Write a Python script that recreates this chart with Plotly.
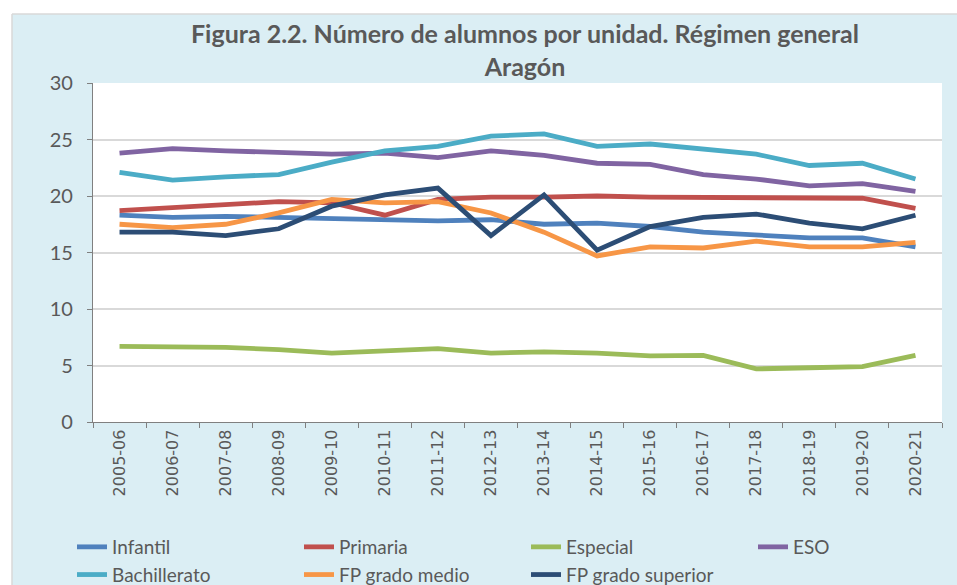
import plotly.graph_objects as go

categories = ["2005-06", "2006-07", "2007-08", "2008-09", "2009-10", "2010-11", "2011-12",
              "2012-13", "2013-14", "2014-15", "2015-16", "2016-17", "2017-18", "2018-19",
              "2019-20", "2020-21"]

infantil = [18.3, 18.1, 18.2, 18.1, 17.9, 17.9, 17.8, 17.9, 17.5, 17.6, 17.3, 16.8, 16.6, 16.3, 16.3, 15.5]
primaria = [18.7, 19.0, 19.3, 19.5, 19.4, 18.3, 19.7, 19.9, 19.9, 20.0, 19.9, 19.9, 19.9, 19.9, 19.8, 18.9]
especial = [6.7, 6.7, 6.6, 6.4, 6.1, 6.3, 6.5, 6.1, 6.2, 6.1, 5.85, 5.9, 4.7, 4.8, 4.9, 5.9]
eso = [23.8, 24.2, 24.0, 23.9, 23.7, 23.8, 23.4, 24.0, 23.6, 22.9, 22.8, 21.9, 21.5, 20.9, 21.1, 20.4]
bachillerato = [22.1, 21.4, 21.7, 21.9, 23.0, 24.0, 24.4, 25.3, 25.5, 24.4, 24.6, 24.2, 23.7, 22.7, 22.9, 21.5]
fp_medio = [17.5, 17.2, 17.5, 18.5, 19.7, 19.4, 19.5, 18.5, 16.8, 14.7, 15.5, 15.4, 16.0, 15.5, 15.5, 15.9]
fp_superior = [16.8, 16.8, 16.5, 17.1, 19.1, 20.1, 20.7, 16.5, 20.1, 15.2, 17.3, 18.1, 18.4, 17.6, 17.1, 18.3]

series_names = ["Infantil", "Primaria", "Especial", "ESO", "Bachillerato", "FP grado medio", "FP grado superior"]
series_values = [infantil, primaria, especial, eso, bachillerato, fp_medio, fp_superior]
series_colors = ["#4F81BD", "#C0504D", "#9BBB59", "#8064A2", "#4BACC6", "#F79646", "#2C4D75"]

y_ticks = [0, 5, 10, 15, 20, 25, 30]

W, H = 957, 585
L, R, T = 93, 15, 83
PLOT_BOTTOM = 422
B = H - PLOT_BOTTOM
pw = W - L - R
ph = H - T - B


def px(x):
    return (x - L) / pw


def py(y):
    return (H - B - y) / ph


fig = go.Figure()
for name, vals, col in zip(series_names, series_values, series_colors):
    fig.add_trace(go.Scatter(
        x=categories, y=vals, name=name, mode="lines",
        line=dict(color=col, width=4.8),
    ))

grey = "#595959"

fig.update_layout(
    width=W, height=H,
    margin=dict(l=L, r=R, t=T, b=B, autoexpand=False),
    paper_bgcolor="#DBEEF4",
    plot_bgcolor="white",
    title=dict(
        text="Figura 2.2. Número de alumnos por unidad. Régimen general<br>Aragón",
        x=525 / W, xanchor="center", xref="container",
        y=1 - 43 / H, yanchor="top", yref="container",
        font=dict(family="Lato", size=25, color=grey, weight="bold"),
    ),
    showlegend=True,
    legend=dict(
        orientation="h",
        x=px(72), xanchor="left",
        y=py(528), yanchor="top",
        entrywidth=182, entrywidthmode="pixels",
        font=dict(family="Lato", size=19, color=grey),
        bgcolor="rgba(0,0,0,0)",
        traceorder="normal",
        tracegroupgap=0,
    ),
    xaxis=dict(
        type="category",
        range=[-0.5, len(categories) - 0.5],
        tickson="boundaries",
        ticks="outside", ticklen=5, tickcolor="#808080",
        showline=True, linecolor="#808080", linewidth=1.3,
        showgrid=False,
        tickangle=-90,
        tickfont=dict(family="DejaVu Sans", size=16, color=grey),
        fixedrange=True,
    ),
    yaxis=dict(
        range=[0, 30],
        tickvals=y_ticks,
        ticks="outside", ticklen=5, tickcolor="#808080",
        showline=True, linecolor="#808080", linewidth=1.3,
        showgrid=True, gridcolor="#D9D9D9", gridwidth=1.5,
        zeroline=False,
        tickfont=dict(family="Lato", size=20, color=grey),
        ticklabelstandoff=10,
        fixedrange=True,
    ),
    shapes=[
        dict(type="rect", xref="paper", yref="paper", layer="below",
             x0=px(-20), x1=px(12), y0=py(600), y1=py(-20),
             fillcolor="white", line=dict(width=0)),
        dict(type="rect", xref="paper", yref="paper", layer="below",
             x0=px(-20), x1=px(980), y0=py(14), y1=py(-20),
             fillcolor="white", line=dict(width=0)),
        dict(type="line", xref="paper", yref="paper", layer="below",
             x0=px(12), x1=px(12), y0=py(600), y1=py(14),
             line=dict(color="#D9D9D9", width=1.5)),
        dict(type="line", xref="paper", yref="paper", layer="below",
             x0=px(12), x1=px(980), y0=py(14), y1=py(14),
             line=dict(color="#D9D9D9", width=1.5)),
        dict(type="rect", xref="paper", yref="paper", layer="below",
             x0=0, x1=1, y0=0, y1=1,
             fillcolor="white", line=dict(width=0)),
    ],
)

fig.write_html(
    "out.html",
    config={"displayModeBar": False},
    post_script="document.body.style.margin='0';document.body.style.overflow='hidden';",
)
